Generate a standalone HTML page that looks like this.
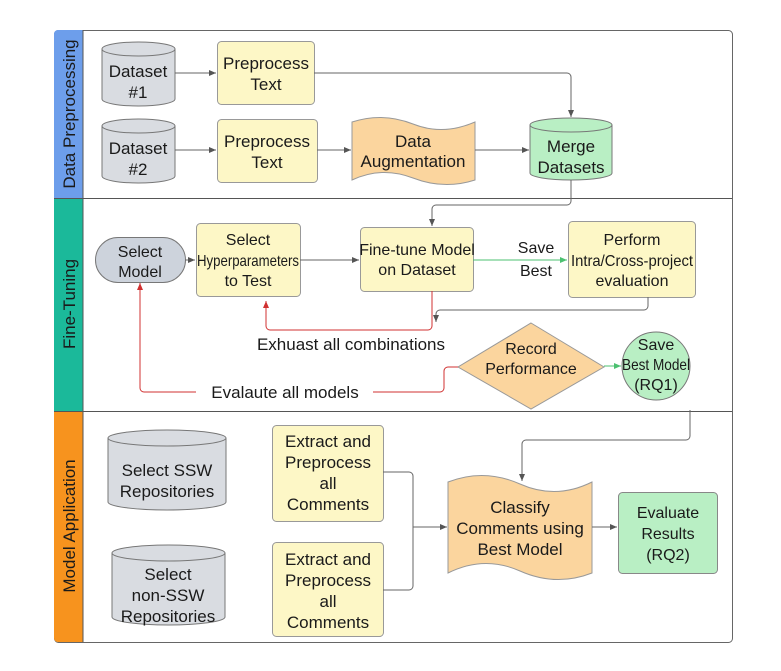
<!DOCTYPE html>
<html><head><meta charset="utf-8"><style>
html,body{margin:0;padding:0;background:#fff;}
svg{display:block;}
text{font-family:"Liberation Sans",sans-serif;font-size:15px;fill:#1a1a1a;text-anchor:middle;}
.b{font-size:17px;}
.m{font-size:16px;}
</style></head><body>
<svg width="781" height="671" viewBox="0 0 781 671" xmlns="http://www.w3.org/2000/svg">
<defs>
<marker id="ag" markerWidth="8" markerHeight="8" refX="7" refY="4" orient="auto" markerUnits="userSpaceOnUse"><path d="M0,1 L7,4 L0,7z" fill="#555"/></marker>
<marker id="ar" markerWidth="8" markerHeight="8" refX="7" refY="4" orient="auto" markerUnits="userSpaceOnUse"><path d="M0,1 L7,4 L0,7z" fill="#d03030"/></marker>
<marker id="agr" markerWidth="8" markerHeight="8" refX="7" refY="4" orient="auto" markerUnits="userSpaceOnUse"><path d="M0,1 L7,4 L0,7z" fill="#4cc070"/></marker>
</defs>
<rect x="54.5" y="30.5" width="678" height="612" rx="4" fill="#fff" stroke="#666"/>
<path d="M54,34 a4,4 0 0 1 4,-4 H83 V198 H54z" fill="#6d9eeb"/>
<rect x="54" y="198" width="29" height="213" fill="#1bb99a"/>
<path d="M54,411 H83 V642 H58 a4,4 0 0 1 -4,-4z" fill="#f7931e"/>
<line x1="83" y1="30" x2="83" y2="642" stroke="#555"/>
<line x1="54" y1="198.5" x2="732" y2="198.5" stroke="#555"/>
<line x1="54" y1="411.5" x2="732" y2="411.5" stroke="#555"/>
<text transform="translate(75,114) rotate(-90)" style="font-size:17px">Data Preprocessing</text>
<text transform="translate(75,304) rotate(-90)" style="font-size:17px">Fine-Tuning</text>
<text transform="translate(75,526) rotate(-90)" style="font-size:17px">Model Application</text>

<g fill="#d9dce1" stroke="#777">
<path d="M102,49 V99 A36.5,7 0 0 0 175,99 V49"/><ellipse cx="138.5" cy="49" rx="36.5" ry="7"/>
<path d="M102,126 V176 A36.5,7 0 0 0 175,176 V126"/><ellipse cx="138.5" cy="126" rx="36.5" ry="7"/>
<path d="M108,438 V502 A59,8 0 0 0 226,502 V438"/><ellipse cx="167" cy="438" rx="59" ry="8"/>
<path d="M112,553 V617 A56.5,8 0 0 0 225,617 V553"/><ellipse cx="168.5" cy="553" rx="56.5" ry="8"/>
</g>
<path d="M530,125 V173 A41,7 0 0 0 612,173 V125" fill="#b9efc4" stroke="#777"/><ellipse cx="571" cy="125" rx="41" ry="7" fill="#b9efc4" stroke="#777"/>

<g fill="#fdf7c6" stroke="#999">
<rect x="217.5" y="41.5" width="97" height="63" rx="4"/>
<rect x="217.5" y="119.5" width="100" height="63" rx="4"/>
<rect x="196.5" y="223.5" width="104" height="73" rx="4"/>
<rect x="360.5" y="227.5" width="113" height="64" rx="4"/>
<rect x="568.5" y="221.5" width="127" height="76" rx="4"/>
<rect x="272.5" y="425.5" width="111" height="96" rx="4"/>
<rect x="272.5" y="542.5" width="111" height="94" rx="4"/>
</g>
<path d="M352,122 Q383,112 413,124 T475,122 V180 Q444,190 413,178 T352,180z" fill="#fbd59e" stroke="#999"/>
<path d="M448,482 Q484,468 520,484 T592,482 V573 Q556,587 520,571 T448,573z" fill="#fbd59e" stroke="#999"/>
<rect x="95.5" y="237.5" width="90" height="45" rx="22.5" fill="#cdd3dc" stroke="#777"/>
<path d="M531,323 L604,367 L531,409 L458,367z" fill="#fbd59e" stroke="#999"/>
<ellipse cx="656" cy="366" rx="34" ry="34" fill="#b9efc4" stroke="#777"/>
<rect x="618.5" y="492.5" width="99" height="81" rx="4" fill="#b9efc4" stroke="#888"/>

<g fill="none" stroke="#666" stroke-width="1">
<path d="M175,73 H216" marker-end="url(#ag)"/>
<path d="M314,73 H567 a4,4 0 0 1 4,4 V117" marker-end="url(#ag)"/>
<path d="M175,150 H216" marker-end="url(#ag)"/>
<path d="M317,150 H351" marker-end="url(#ag)"/>
<path d="M475,150 H529" marker-end="url(#ag)"/>
<path d="M571,180 V201 a4,4 0 0 1 -4,4 H436 a4,4 0 0 0 -4,4 V226" marker-end="url(#ag)"/>
<path d="M185,260 H195" marker-end="url(#ag)"/>
<path d="M300,260 H359" marker-end="url(#ag)"/>
<path d="M648,297 V306 a4,4 0 0 1 -4,4 H440 a4,4 0 0 0 -4,4 V322" marker-end="url(#ag)"/>
<path d="M690,410 V436 a4,4 0 0 1 -4,4 H526 a4,4 0 0 0 -4,4 V481" marker-end="url(#ag)"/>
<path d="M383,472 H409 a4,4 0 0 1 4,4 V586 a4,4 0 0 1 -4,4 H383"/>
<path d="M413,527 H447" marker-end="url(#ag)"/>
<path d="M592,527 H617" marker-end="url(#ag)"/>
</g>
<path d="M604,366 H621" stroke="#4cc070" fill="none" marker-end="url(#agr)"/>
<path d="M473,260 H567" stroke="#4cc070" fill="none" marker-end="url(#agr)"/>
<g fill="none" stroke="#d03030">
<path d="M432,291 V326 a4,4 0 0 1 -4,4 H270 a4,4 0 0 1 -4,-4 V301" marker-end="url(#ar)"/>
<path d="M458,367 H448 a4,4 0 0 0 -4,4 V388 a4,4 0 0 1 -4,4 H144 a4,4 0 0 1 -4,-4 V283" marker-end="url(#ar)"/>
</g>
<rect x="196" y="383" width="177" height="18" fill="#fff"/>
<text x="285" y="398" class="b">Evalaute all models</text>
<text x="351" y="350" class="b">Exhuast all combinations</text>
<text x="536" y="253" class="m">Save</text>
<text x="536" y="276" class="m">Best</text>

<text x="138" y="77" class="b">Dataset</text><text x="138" y="98" class="b">#1</text>
<text x="138" y="154" class="b">Dataset</text><text x="138" y="175" class="b">#2</text>
<text x="266" y="69" class="b">Preprocess</text><text x="266" y="90" class="b">Text</text>
<text x="267" y="147" class="b">Preprocess</text><text x="267" y="168" class="b">Text</text>
<text x="413" y="147" class="b">Data</text><text x="413" y="167" class="b">Augmentation</text>
<text x="571" y="152" class="b">Merge</text><text x="571" y="173" class="b">Datasets</text>
<text x="140" y="257" class="m">Select</text><text x="140" y="277" class="m">Model</text>
<text x="248" y="245" class="m">Select</text><text x="248" y="266" class="m" textLength="102" lengthAdjust="spacingAndGlyphs">Hyperparameters</text><text x="248" y="286" class="m">to Test</text>
<text x="417" y="255" class="m">Fine-tune Model</text><text x="417" y="275" class="m">on Dataset</text>
<text x="632" y="245" class="m">Perform</text><text x="632" y="266" class="m" textLength="122" lengthAdjust="spacingAndGlyphs">Intra/Cross-project</text><text x="632" y="286" class="m">evaluation</text>
<text x="531" y="354" class="m">Record</text><text x="531" y="374" class="m">Performance</text>
<text x="656" y="350" class="m">Save</text><text x="656" y="370" class="m" textLength="68" lengthAdjust="spacingAndGlyphs">Best Model</text><text x="656" y="390" class="m">(RQ1)</text>
<text x="167" y="476" class="b">Select SSW</text><text x="167" y="497" class="b">Repositories</text>
<text x="168" y="580" class="b">Select</text><text x="168" y="601" class="b">non-SSW</text><text x="168" y="622" class="b">Repositories</text>
<text x="328" y="447" class="b">Extract and</text><text x="328" y="468" class="b">Preprocess</text><text x="328" y="489" class="b">all</text><text x="328" y="510" class="b">Comments</text>
<text x="328" y="565" class="b">Extract and</text><text x="328" y="586" class="b">Preprocess</text><text x="328" y="607" class="b">all</text><text x="328" y="628" class="b">Comments</text>
<text x="520" y="513" class="b">Classify</text><text x="520" y="534" class="b">Comments using</text><text x="520" y="555" class="b">Best Model</text>
<text x="668" y="518" class="m">Evaluate</text><text x="668" y="539" class="m">Results</text><text x="668" y="560" class="m">(RQ2)</text>
</svg>
</body></html>
